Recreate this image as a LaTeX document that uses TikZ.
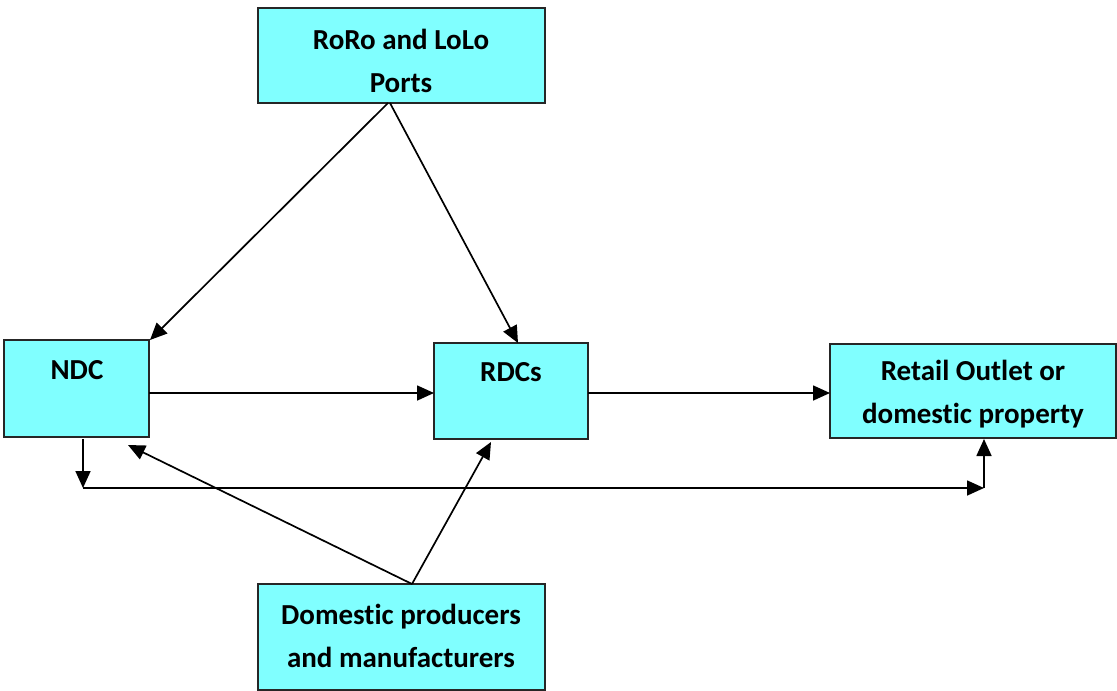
\documentclass[tikz,border=0pt]{standalone}
\usepackage{fontspec}
\setmainfont[Ligatures=NoCommon]{Carlito}
\usetikzlibrary{arrows.meta}
\definecolor{boxfill}{RGB}{128,255,255}
\begin{document}
\begin{tikzpicture}[x=1pt,y=-1pt,
  box/.style={draw=black!85,line width=2pt,fill=boxfill,inner sep=0pt},
  lbl/.style={font=\bfseries\fontsize{29}{43}\selectfont,align=center},
  conn/.style={line width=1.7pt,-{Triangle[length=17pt,width=15pt]}}]
\useasboundingbox (0,0) rectangle (1117,691);
% boxes
\draw[box] (258,8) rectangle (545,103);
\node[lbl] (ports) at (401,61) {RoRo and LoLo\\Ports};
\draw[box] (4,340) rectangle (149,437);
\node[lbl] (ndc) at (77,370) {NDC};
\draw[box] (434,343) rectangle (588,439);
\node[lbl] (rdc) at (511,372) {RDCs};
\draw[box] (830,344) rectangle (1116,438);
\node[lbl] (retail) at (973,394) {Retail Outlet or\\domestic property};
\draw[box] (258,584) rectangle (545,690);
\node[lbl] (dom) at (401,636) {Domestic producers\\and manufacturers};
% coordinates
\coordinate (pA) at (388,103);
\coordinate (pB) at (390,103);
\coordinate (ndcTR) at (150,340);
\coordinate (rdcT) at (518,343);
\coordinate (ndcR) at (149,393);
\coordinate (rdcL) at (434,393);
\coordinate (rdcR) at (588,393);
\coordinate (retL) at (830,393);
\coordinate (ndcB) at (83,439);
\coordinate (c1) at (83,488);
\coordinate (c2) at (984,488);
\coordinate (retB) at (984,439);
\coordinate (dT) at (412,584);
\coordinate (ndcBR) at (128,445);
\coordinate (rdcB) at (491,442);
% connectors
\draw[conn] (pA) -- (ndcTR);
\draw[conn] (pB) -- (rdcT);
\draw[conn] (ndcR) -- (rdcL);
\draw[conn] (rdcR) -- (retL);
\draw[conn] (ndcB) -- (c1);
\draw[conn] (c1) -- (c2);
\draw[conn] (c2) -- (retB);
\draw[conn] (dT) -- (ndcBR);
\draw[conn] (dT) -- (rdcB);
\end{tikzpicture}
\end{document}
